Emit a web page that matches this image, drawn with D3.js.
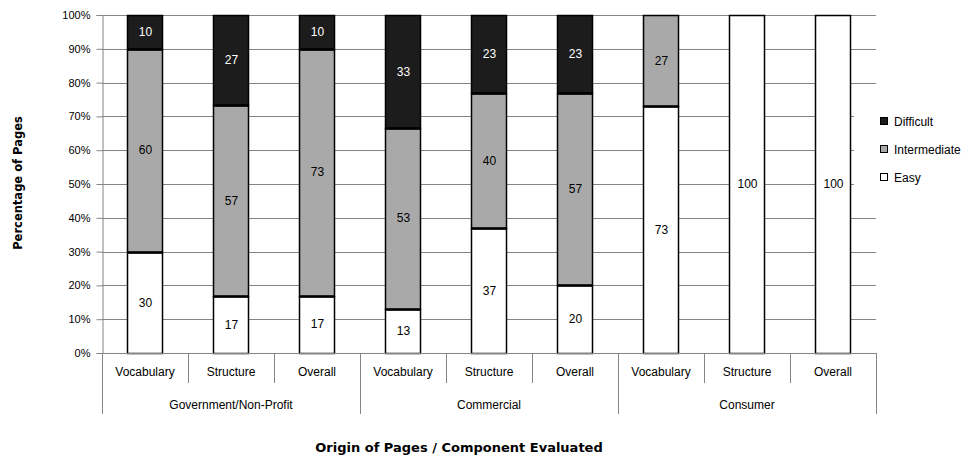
<!DOCTYPE html>
<html>
<head>
<meta charset="utf-8">
<script src="https://cdn.jsdelivr.net/npm/d3@7"></script>
<style>
  html, body { margin: 0; padding: 0; background: #fff; }
  svg { display: block; }
</style>
</head>
<body>
<svg id="chart" width="972" height="458"></svg>
<script>
// Groups and the components evaluated within each
const groups = ["Government/Non-Profit", "Commercial", "Consumer"];
const components = ["Vocabulary", "Structure", "Overall"];

// Counts per bar (groups × components, in order)
const easy         = [30, 17, 17, 13, 37, 20, 73, 100, 100];
const intermediate = [60, 57, 73, 53, 40, 57, 27, 0, 0];
const difficult    = [10, 27, 10, 33, 23, 23, 0, 0, 0];

const seriesNames = ["Easy", "Intermediate", "Difficult"];
const seriesColors = { Easy: "#ffffff", Intermediate: "#a9a9a9", Difficult: "#1c1c1c" };
const yTicks = [0, 0.1, 0.2, 0.3, 0.4, 0.5, 0.6, 0.7, 0.8, 0.9, 1];

const rows = [];
groups.forEach((g, gi) => components.forEach((c, ci) => {
  const i = gi * components.length + ci;
  rows.push({ key: g + "|" + c, group: g, comp: c,
    Easy: easy[i], Intermediate: intermediate[i], Difficult: difficult[i] });
}));

const svg = d3.select("#chart");
const font = "'Liberation Sans', Arial, sans-serif";
const titleFont = "'DejaVu Sans', Verdana, sans-serif";
const margin = { left: 102, right: 96, top: 15, bottom: 105 };
const W = 972, H = 458;
const x0 = margin.left, x1 = W - margin.right, y0 = H - margin.bottom, y1 = margin.top;

const x = d3.scaleBand().domain(rows.map(d => d.key)).range([x0, x1]).paddingInner(0.59).paddingOuter(0.295);
const y = d3.scaleLinear().domain([0, 1]).range([y0, y1]);

// horizontal gridlines
svg.append("g").selectAll("line").data(yTicks.slice(1)).join("line")
  .attr("x1", x0).attr("x2", x1)
  .attr("y1", d => Math.round(y(d)) + 0.5).attr("y2", d => Math.round(y(d)) + 0.5)
  .attr("stroke", "#858585").attr("stroke-width", 1);

// y axis
const yAxis = d3.axisLeft(y).tickValues(yTicks).tickFormat(d3.format(".0%")).tickSize(6).tickPadding(6);
const gy = svg.append("g").attr("transform", `translate(${x0 + 0.5},0)`).call(yAxis);
gy.select(".domain").attr("stroke", "#858585");
gy.selectAll(".tick line").attr("stroke", "#858585");
gy.selectAll(".tick text").attr("font-family", font).attr("font-size", 11).attr("fill", "#000");

// stacked bars (normalised to 100%)
const stack = d3.stack().keys(seriesNames)
  .value((d, k) => d[k] / (d.Easy + d.Intermediate + d.Difficult));
const layers = stack(rows);

const gBars = svg.append("g");
layers.forEach(layer => {
  gBars.append("g").selectAll("rect").data(layer.filter(s => s[1] - s[0] > 0)).join("rect")
    .attr("x", s => Math.round(x(s.data.key)) + 0.5)
    .attr("width", Math.round(x.bandwidth()))
    .attr("y", s => Math.round(y(s[1])) + 0.5)
    .attr("height", s => Math.round(y(s[0])) - Math.round(y(s[1])))
    .attr("fill", seriesColors[layer.key])
    .attr("stroke", "#000").attr("stroke-width", 1.5);
});

// heavier divider where one segment meets the next
layers.slice(0, -1).forEach(layer => {
  gBars.append("g").selectAll("line")
    .data(layer.filter(s => s[1] - s[0] > 0 && s[1] < 0.999)).join("line")
    .attr("x1", s => Math.round(x(s.data.key)) + 0.5)
    .attr("x2", s => Math.round(x(s.data.key)) + 0.5 + Math.round(x.bandwidth()))
    .attr("y1", s => Math.round(y(s[1])) + 0.5).attr("y2", s => Math.round(y(s[1])) + 0.5)
    .attr("stroke", "#000").attr("stroke-width", 2.6);
});

// value labels
layers.forEach(layer => {
  gBars.append("g").selectAll("text").data(layer.filter(s => s.data[layer.key] > 0)).join("text")
    .attr("x", s => x(s.data.key) + x.bandwidth() / 2 + 0.5)
    .attr("y", s => y((s[0] + s[1]) / 2))
    .attr("dy", "0.35em")
    .attr("text-anchor", "middle")
    .attr("font-family", font).attr("font-size", 12)
    .attr("fill", layer.key === "Difficult" ? "#fff" : "#000")
    .text(s => s.data[layer.key]);
});

// category axis (two tiers)
const gx = svg.append("g");
const step = x.step();
gx.append("line").attr("x1", x0).attr("x2", x1 + 0.5).attr("y1", y0 + 0.5).attr("y2", y0 + 0.5).attr("stroke", "#858585");
rows.forEach((d, i) => {
  const left = x0 + i * step;
  const isGroupEdge = i % components.length === 0;
  gx.append("line").attr("x1", Math.round(left) + 0.5).attr("x2", Math.round(left) + 0.5)
    .attr("y1", y0).attr("y2", isGroupEdge ? y0 + 61 : y0 + 30).attr("stroke", "#858585");
  gx.append("text").attr("x", left + step / 2).attr("y", y0 + 23)
    .attr("text-anchor", "middle").attr("font-family", font).attr("font-size", 12)
    .text(d.comp);
});
gx.append("line").attr("x1", x1 + 0.5).attr("x2", x1 + 0.5).attr("y1", y0).attr("y2", y0 + 61).attr("stroke", "#858585");
groups.forEach((g, gi) => {
  const cx = x0 + (gi + 0.5) * components.length * step;
  gx.append("text").attr("x", cx).attr("y", y0 + 56)
    .attr("text-anchor", "middle").attr("font-family", font).attr("font-size", 12)
    .text(g);
});

// axis titles
svg.append("text").attr("x", 459).attr("y", 452).attr("text-anchor", "middle")
  .attr("font-family", titleFont).attr("font-weight", "bold").attr("font-size", 13)
  .text("Origin of Pages / Component Evaluated");
svg.append("text").attr("transform", "translate(22,183) rotate(-90)").attr("text-anchor", "middle")
  .attr("font-family", titleFont).attr("font-weight", "bold").attr("font-size", 11.5)
  .text("Percentage of Pages");

// legend
const lg = svg.append("g");
lg.append("rect").attr("x", 854).attr("y", 100).attr("width", 118).attr("height", 100).attr("fill", "#fff");
["Difficult", "Intermediate", "Easy"].forEach((k, i) => {
  const ly = 122 + i * 28;
  lg.append("rect").attr("x", 880.5).attr("y", ly - 4.5).attr("width", 7).attr("height", 7)
    .attr("fill", seriesColors[k]).attr("stroke", "#000");
  lg.append("text").attr("x", 894).attr("y", ly).attr("dy", "0.35em")
    .attr("font-family", font).attr("font-size", 12).text(k);
});
</script>
</body>
</html>
